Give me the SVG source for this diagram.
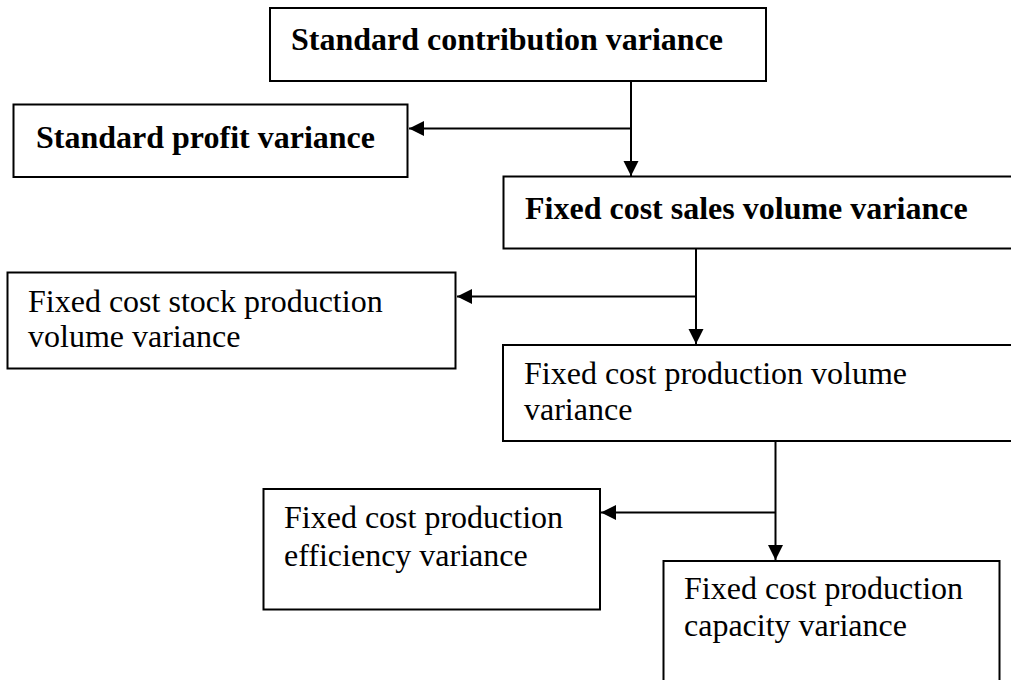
<svg xmlns="http://www.w3.org/2000/svg" width="1011" height="680" viewBox="0 0 1011 680">
<style>
.box{fill:#fff;stroke:#000;stroke-width:2}
.t{font-family:"Liberation Serif","Times New Roman",serif;font-size:32px;fill:#000}
.b{font-weight:bold}
.c{fill:none;stroke:#000;stroke-width:2}
</style>
<defs>
<marker id="ah" markerWidth="16" markerHeight="16" refX="15" refY="7.5" orient="auto" markerUnits="userSpaceOnUse">
<path d="M0,0 L15,7.5 L0,15 Z" fill="#000"/>
</marker>
</defs>
<rect width="1011" height="680" fill="#fff"/>
<g id="connectors">
<line class="c" x1="631" y1="81" x2="631" y2="176" marker-end="url(#ah)"/>
<line class="c" x1="631" y1="128.5" x2="409" y2="128.5" marker-end="url(#ah)"/>
<line class="c" x1="696" y1="248" x2="696" y2="344" marker-end="url(#ah)"/>
<line class="c" x1="696" y1="296.5" x2="457" y2="296.5" marker-end="url(#ah)"/>
<line class="c" x1="775.5" y1="441" x2="775.5" y2="560" marker-end="url(#ah)"/>
<line class="c" x1="775.5" y1="512.5" x2="601" y2="512.5" marker-end="url(#ah)"/>
</g>
<g id="n-contribution">
<rect class="box" x="270" y="8" width="496" height="73"/>
<text class="t b" x="291" y="50">Standard contribution variance</text>
</g>
<g id="n-profit">
<rect class="box" x="13.5" y="104.5" width="394" height="72.5"/>
<text class="t b" x="36" y="148">Standard profit variance</text>
</g>
<g id="n-sales-volume">
<rect class="box" x="503.5" y="176.5" width="520" height="72"/>
<text class="t b" x="525" y="218.5">Fixed cost sales volume variance</text>
</g>
<g id="n-stock">
<rect class="box" x="7.5" y="272.5" width="448" height="96"/>
<text class="t" x="28" y="311.5">Fixed cost stock production</text>
<text class="t" x="28" y="347">volume variance</text>
</g>
<g id="n-production-volume">
<rect class="box" x="503" y="345" width="520" height="96"/>
<text class="t" x="524" y="384">Fixed cost production volume</text>
<text class="t" x="524" y="420">variance</text>
</g>
<g id="n-efficiency">
<rect class="box" x="263.5" y="489" width="336.5" height="120.5"/>
<text class="t" x="284" y="528">Fixed cost production</text>
<text class="t" x="284" y="565.5">efficiency variance</text>
</g>
<g id="n-capacity">
<rect class="box" x="663.5" y="561" width="336" height="130"/>
<text class="t" x="684" y="599">Fixed cost production</text>
<text class="t" x="684" y="636">capacity variance</text>
</g>
</svg>
